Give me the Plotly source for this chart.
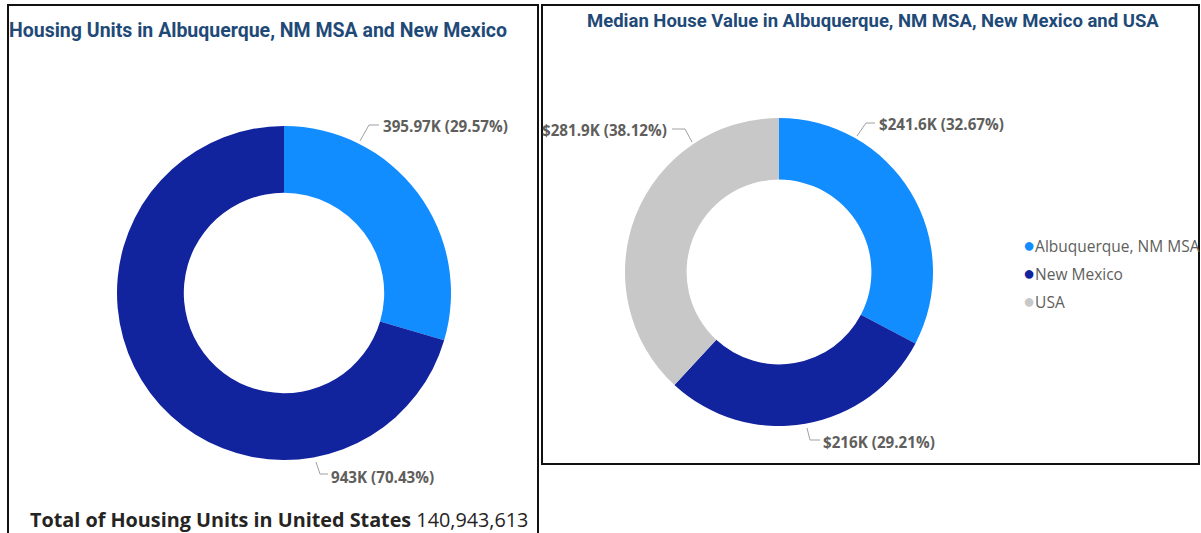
import plotly.graph_objects as go

# ---------------- data ----------------
housing_cats = ["Albuquerque, NM MSA", "New Mexico"]
housing_vals = [395970, 943000]
value_cats = ["Albuquerque, NM MSA", "New Mexico", "USA"]
value_vals = [241600, 216000, 281900]
us_total_units = 140943613
title_left = "Housing Units in Albuquerque, NM MSA and New Mexico"
title_right = "Median House Value in Albuquerque, NM MSA, New Mexico and USA"
total_label = "Total of Housing Units in United States"

# ---------------- style ----------------
W, H = 1201, 533
cat_colors = {"Albuquerque, NM MSA": "#118DFF", "New Mexico": "#12239E", "USA": "#C8C8C8"}
LABEL_FONT = dict(family="Open Sans, Noto Sans, sans-serif", size=15.2, color="#605E5C")
TITLE_FONT_L = dict(family="Roboto, sans-serif", size=19.5, color="#1F4A78", weight="bold")
TITLE_FONT_R = dict(family="Roboto, sans-serif", size=18.5, color="#1F4A78", weight="bold")


def px(x):
    return x / W


def py(y):
    return 1 - y / H


def fmt_k(v, prefix=""):
    s = f"{v/1000:.2f}".rstrip("0").rstrip(".")
    return f"{prefix}{s}K"


def labels_for(vals, prefix=""):
    tot = sum(vals)
    return [f"{fmt_k(v, prefix)} ({100*v/tot:.2f}%)" for v in vals]


fig = go.Figure()

# pie geometry (pixel boxes)
left_box = dict(x0=117, x1=451, y0=126, y1=460)
right_box = dict(x0=625, x1=933, y0=118, y1=426)

fig.add_trace(go.Pie(
    labels=housing_cats, values=housing_vals, hole=0.6, sort=False,
    direction="clockwise", rotation=0, textinfo="none", showlegend=False,
    marker=dict(colors=[cat_colors[c] for c in housing_cats], line=dict(width=0)),
    domain=dict(x=[px(left_box["x0"]), px(left_box["x1"])],
                y=[py(left_box["y1"]), py(left_box["y0"])]),
))
fig.add_trace(go.Pie(
    labels=value_cats, values=value_vals, hole=0.6, sort=False,
    direction="clockwise", rotation=0, textinfo="none", showlegend=False,
    marker=dict(colors=[cat_colors[c] for c in value_cats], line=dict(width=0)),
    domain=dict(x=[px(right_box["x0"]), px(right_box["x1"])],
                y=[py(right_box["y1"]), py(right_box["y0"])]),
))

# label placement (leader line points and text anchor, in pixels)
left_label_pos = [
    dict(pts=[(360, 141), (369, 125), (379, 125)], at=(381, 126), xa="left"),
    dict(pts=[(316, 462), (320, 474), (328, 474)], at=(329, 477), xa="left"),
]
right_label_pos = [
    dict(pts=[(857, 136), (866, 123), (875, 123)], at=(877, 124), xa="left"),
    dict(pts=[(807, 428), (810, 440), (820, 440)], at=(821, 442), xa="left"),
    dict(pts=[(692, 142), (685, 129), (672, 129)], at=(669, 130), xa="right"),
]

shapes = []
annotations = []
for texts, poss in [(labels_for(housing_vals), left_label_pos),
                    (labels_for(value_vals, "$"), right_label_pos)]:
    for t, p in zip(texts, poss):
        path = "M " + " L ".join(f"{px(a):.5f},{py(b):.5f}" for a, b in p["pts"])
        shapes.append(dict(type="path", xref="paper", yref="paper", path=path,
                           line=dict(color="#A0A0A0", width=1)))
        annotations.append(dict(text=f"<b>{t}</b>", x=px(p["at"][0]), y=py(p["at"][1]),
                                xref="paper", yref="paper", xanchor=p["xa"], yanchor="middle",
                                showarrow=False, font=LABEL_FONT))

# panel borders
shapes.append(dict(type="rect", xref="paper", yref="paper",
                   x0=px(8), x1=px(538), y0=py(540), y1=py(5),
                   line=dict(color="#111111", width=2)))
shapes.append(dict(type="rect", xref="paper", yref="paper",
                   x0=px(542), x1=px(1199), y0=py(464), y1=py(5),
                   line=dict(color="#111111", width=2)))

# titles
annotations.append(dict(text=title_left, x=px(7), y=py(31), xref="paper", yref="paper",
                        xanchor="left", yanchor="middle", showarrow=False, font=TITLE_FONT_L))
annotations.append(dict(text=title_right, x=px(873), y=py(21), xref="paper", yref="paper",
                        xanchor="center", yanchor="middle", showarrow=False, font=TITLE_FONT_R))

# total card
annotations.append(dict(text=f"<b>{total_label}</b> {us_total_units:,}", x=px(279), y=py(519),
                        xref="paper", yref="paper", xanchor="center", yanchor="middle",
                        showarrow=False,
                        font=dict(family="Open Sans, Noto Sans, sans-serif", size=19.8, color="#252423")))

# legend (manual, circle markers)
for i, c in enumerate(value_cats):
    annotations.append(dict(
        text=f"<span style='color:{cat_colors[c]};font-size:20px'>●</span>{c}",
        x=px(1021), y=py(245 + 27.5 * i), xref="paper", yref="paper",
        xanchor="left", yanchor="middle", showarrow=False,
        font=dict(family="Open Sans, Noto Sans, sans-serif", size=15.5, color="#605E5C")))

fig.update_layout(
    width=W, height=H, margin=dict(l=0, r=0, t=0, b=0),
    paper_bgcolor="white", plot_bgcolor="white",
    shapes=shapes, annotations=annotations, showlegend=False,
)

fig.write_html("out.html", config={"displayModeBar": False},
               post_script="document.body.style.margin='0';document.body.style.overflow='hidden';")
